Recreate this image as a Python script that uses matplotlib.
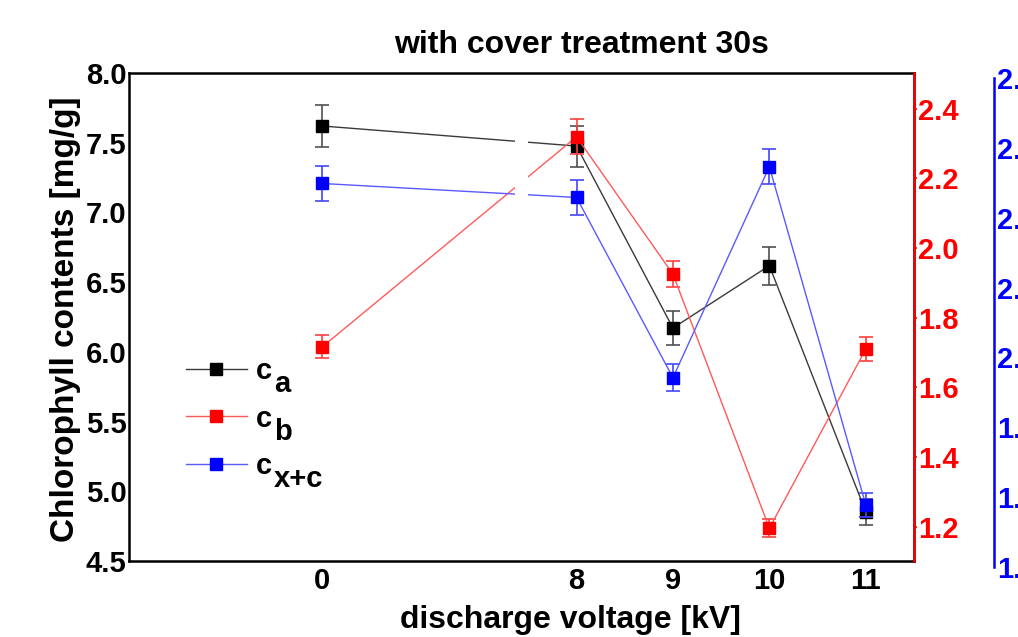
"""Chlorophyll contents vs discharge voltage (with cover, 30 s), three y axes
and a broken x axis between 0 and 8 kV."""

import matplotlib

matplotlib.use("Agg")
import matplotlib.pyplot as plt
import numpy as np
from matplotlib.ticker import FormatStrFormatter

plt.rcParams["font.family"] = ["Liberation Sans", "DejaVu Sans"]
plt.rcParams["font.weight"] = "bold"
plt.rcParams["axes.labelweight"] = "bold"

# ---- data -----------------------------------------------------------------
voltage = [0, 8, 9, 10, 11]
c_a = [7.62, 7.476, 6.171, 6.618, 4.853]
c_a_err = [0.15, 0.147, 0.12, 0.135, 0.095]
c_b = [1.716, 2.319, 1.925, 1.196, 1.710]
c_b_err = [0.033, 0.05, 0.037, 0.026, 0.034]
c_xc = [2.249, 2.229, 1.971, 2.273, 1.789]
c_xc_err = [0.025, 0.025, 0.019, 0.025, 0.017]
xtick_labels = ["0", "8", "9", "10", "11"]
subscripts = ["a", "b", "x+c"]

# x-axis break between 2 and 7.5 kV (squeezed to a small gap)
_BRK = ([-100.0, 2.0, 7.5, 100.0], [-100.0, 2.0, 2.138, 94.638])


def _fwd(v):
    return np.interp(v, _BRK[0], _BRK[1])


def _inv(t):
    return np.interp(t, _BRK[1], _BRK[0])


W, H = 1018, 637
TICK_FS = 21
LEG_FS = 21
fig = plt.figure(figsize=(W / 100, H / 100), dpi=100)

ax = fig.add_axes([129.3 / W, 1 - 561 / H, (914 - 129.3) / W, (561 - 73) / H])
ax_b = ax.twinx()
ax_c = fig.add_axes([129.3 / W, 1 - 567 / H, (914 - 129.3) / W, (567 - 78) / H],
                    sharex=ax)

ax.set_xscale("function", functions=(_fwd, _inv))
ax.set_xlim(-2, 11.5)

series = [
    (ax, c_a, c_a_err, "black", "#3a3a3a", "#505050"),
    (ax_b, c_b, c_b_err, "red", "#ff5a5a", "#ff4040"),
    (ax_c, c_xc, c_xc_err, "blue", "#5a5aff", "#4545ff"),
]
handles = []
for a, y, e, col, lcol, ecol in series:
    a.errorbar(voltage, y, yerr=e, fmt="none", ecolor=ecol, elinewidth=1.2,
               capsize=5, capthick=1.2, zorder=2)
    (h,) = a.plot(voltage, y, "-s", color=lcol, lw=1.0, ms=8.5,
                  mfc=col, mec=col, zorder=3)
    handles.append(h)
    # blank strip over the axis break
    a.axvspan(2.0, 7.5, ymin=0.02, ymax=0.98, color="white", lw=0, zorder=4)

# left axis
ax.set_ylim(4.5, 8.0)
ax.set_yticks(np.arange(4.5, 8.01, 0.5))
ax.yaxis.set_major_formatter(FormatStrFormatter("%.1f"))
ax.set_xticks(voltage)
ax.set_xticklabels(xtick_labels)
ax.tick_params(axis="both", length=0, labelsize=TICK_FS)
ax.tick_params(axis="y", pad=2)
ax.tick_params(axis="x", pad=4)
for s in ax.spines.values():
    s.set_linewidth(1.8)
ax.set_ylabel("Chlorophyll contents [mg/g]", fontsize=24)
ax.yaxis.set_label_coords(66 / W, 1 - 319 / H, transform=fig.transFigure)
ax.yaxis.label.set_va("center")
ax.set_xlabel("discharge voltage [kV]", fontsize=23)
ax.xaxis.set_label_coords(570 / W, 1 - 620 / H, transform=fig.transFigure)
ax.xaxis.label.set_va("center")

# red right axis
ax_b.set_ylim(1.102, 2.502)
ax_b.set_yticks(np.arange(1.2, 2.41, 0.2))
ax_b.yaxis.set_major_formatter(FormatStrFormatter("%.1f"))
ax_b.tick_params(axis="y", colors="red", length=2, width=1.2,
                 labelsize=TICK_FS, pad=1)
ax_b.spines["right"].set_color("red")
ax_b.spines["right"].set_linewidth(1.8)
for k in ("left", "top", "bottom"):
    ax_b.spines[k].set_visible(False)

# blue outer axis
ax_c.set_ylim(1.7, 2.4)
ax_c.set_yticks(np.arange(1.7, 2.41, 0.1))
ax_c.yaxis.set_major_formatter(FormatStrFormatter("%.1f"))
ax_c.patch.set_visible(False)
for k in ("left", "top", "bottom"):
    ax_c.spines[k].set_visible(False)
ax_c.spines["right"].set_position(("outward", 80 * 0.72))
ax_c.spines["right"].set_color("blue")
ax_c.spines["right"].set_linewidth(1.8)
ax_c.yaxis.set_ticks_position("right")
ax_c.tick_params(axis="y", colors="blue", length=0, labelsize=TICK_FS, pad=2,
                 left=False, labelleft=False, right=True, labelright=True)
ax_c.tick_params(axis="x", bottom=False, labelbottom=False)

# legend: "c" with a full-size, lowered subscript
leg = ax.legend(handles=handles, labels=["c"] * 3, loc="upper left",
                bbox_to_anchor=(186 / W, 1 - 357 / H),
                bbox_transform=fig.transFigure, frameon=False, fontsize=LEG_FS,
                handlelength=2.09, handletextpad=0.31, labelspacing=0.67,
                borderpad=0, borderaxespad=0)
for txt, sub in zip(leg.get_texts(), subscripts):
    ax.annotate(sub, xy=(1, 0), xycoords=txt, xytext=(1.5, -9.5),
                textcoords="offset points", ha="left", va="bottom",
                fontsize=LEG_FS, fontweight="bold", annotation_clip=False,
                zorder=10)

fig.text(582 / W, 1 - 45 / H, "with cover treatment 30s", ha="center", va="center",
         fontsize=23, fontweight="bold")

fig.canvas.draw()
fig.savefig("out.png", dpi=100)
